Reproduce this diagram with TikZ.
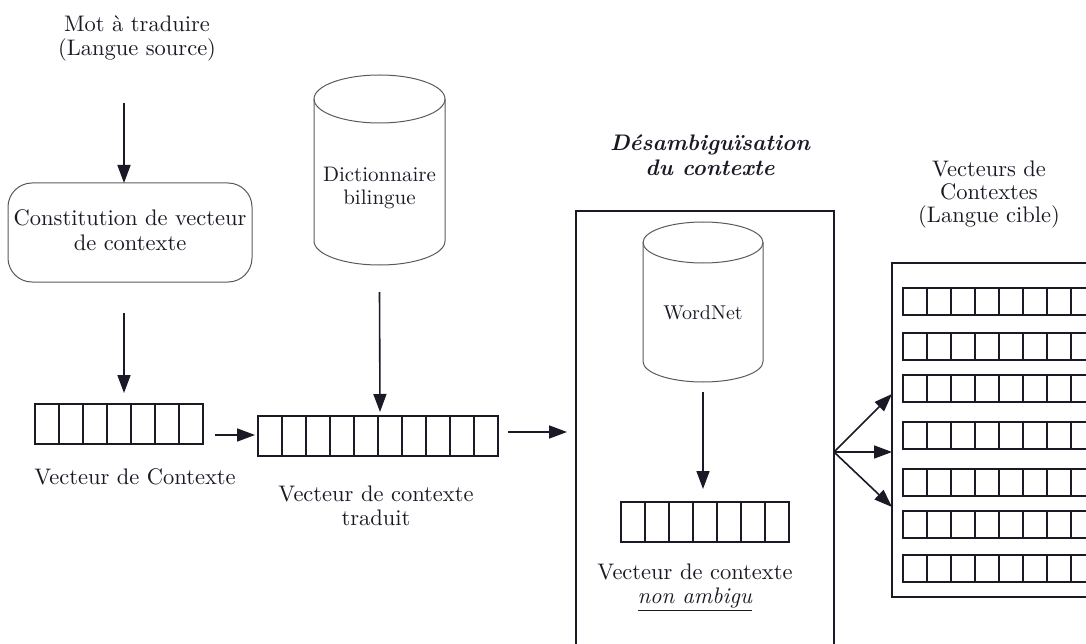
\documentclass[tikz,border=0pt]{standalone}
\usepackage{fontspec}
\setmainfont{lmroman10-regular.otf}[
  BoldFont=lmroman10-bold.otf,
  ItalicFont=lmroman10-italic.otf,
  BoldItalicFont=lmroman10-bolditalic.otf]
\usetikzlibrary{arrows.meta,calc}
\definecolor{ink}{HTML}{1A1A26}
\definecolor{rim}{HTML}{5A5A5A}
\begin{document}
\begin{tikzpicture}[x=1pt,y=-1pt,
  every node/.style={font=\fontsize{22.5}{24.5}\selectfont, text=ink},
  arr/.style={draw=ink, line width=1.6pt, -{Triangle[length=18pt,width=13pt]}},
  vecbox/.style={draw=ink, line width=1.7pt, inner sep=0pt, outer sep=0pt},
  cell/.style={draw=ink, line width=1.5pt},
  txt/.style={align=center, inner sep=0pt},
  frame/.style={draw=ink, line width=1.6pt, inner sep=0pt, outer sep=0pt},
  cyl/.style={draw=rim, line width=1pt},
  hold/.style={inner sep=0pt, outer sep=0pt},
]
\useasboundingbox (0,0) rectangle (1086,644);
\clip (0,0) rectangle (1086,644);

% source word and context-vector construction
\node[txt] (src) at (137,38.5) {Mot à traduire\\(Langue source)};
\node[draw=rim, line width=1pt, rounded corners=24pt, minimum width=244pt,
      minimum height=99pt, inner sep=0pt, outer sep=0pt] (cvc) at (130,232.5) {};
\node[txt] (cvclab) at (130,230) {Constitution de vecteur\\de contexte};

% vectors (cells 24 units wide)
\node[vecbox, minimum width=168pt, minimum height=40pt, anchor=north west] (vec1) at (35,404) {};
\foreach \k in {1,...,6}
  \draw[cell] ($(vec1.north west)+(\k*24,0)$) -- ($(vec1.south west)+(\k*24,0)$);
\node[txt] (lab1) at (135,477) {Vecteur de Contexte};

\node[vecbox, minimum width=240pt, minimum height=40pt, anchor=north west] (vec2) at (258,416) {};
\foreach \k in {1,...,9}
  \draw[cell] ($(vec2.north west)+(\k*24,0)$) -- ($(vec2.south west)+(\k*24,0)$);
\node[txt] (lab2) at (376,506) {Vecteur de contexte\\traduit};

% bilingual dictionary
\node[hold, minimum width=131pt, minimum height=190pt] (dict) at (379.5,170) {};
\draw[cyl] (379.5,99) ellipse[x radius=65.5, y radius=24];
\draw[cyl] (314,99) -- (314,241) arc[start angle=180, end angle=0, x radius=65.5, y radius=24] -- (445,99);
\node[txt, font=\fontsize{21}{23}\selectfont] (dictlab) at (379.5,188) {Dictionnaire\\bilingue};

% disambiguation block
\node[txt, font=\fontsize{22.5}{24.5}\selectfont\bfseries\itshape] (dis) at (710,155)
      {Désambiguïsation\\du contexte};
\node[frame, minimum width=258pt, minimum height=489pt] (box) at (705,455.5) {};
\node[hold, minimum width=120pt, minimum height=160pt] (wn) at (703,302) {};
\draw[cyl] (703,242.5) ellipse[x radius=60, y radius=20.5];
\draw[cyl] (643,242.5) -- (643,361.5) arc[start angle=180, end angle=0, x radius=60, y radius=20.5] -- (763,242.5);
\node[txt, font=\fontsize{20}{22}\selectfont] (wnlab) at (703,313) {WordNet};

\node[vecbox, minimum width=168pt, minimum height=40pt, anchor=north west] (vec3) at (621,502) {};
\foreach \k in {1,...,6}
  \draw[cell] ($(vec3.north west)+(\k*24,0)$) -- ($(vec3.south west)+(\k*24,0)$);
\node[txt] (lab3) at (695,587) {Vecteur de contexte\\\underline{\textit{non ambigu}}};

% target-language context vectors
\node[txt, font=\fontsize{22.5}{23}\selectfont] (tgt) at (989,195) {Vecteurs de\\Contextes\\(Langue cible)};
\node[frame, minimum width=238pt, minimum height=334pt] (panel) at (1011,430) {};
\foreach \r/\y in {1/288,2/333,3/375,4/422,5/469,6/511,7/555} {
  \node[vecbox, anchor=north west, minimum width=240pt, minimum height=27pt] (row\r) at (903,\y) {};
  \foreach \k in {1,...,9}
    \draw[cell] ($(row\r.north west)+(\k*24,0)$) -- ($(row\r.south west)+(\k*24,0)$);
}

% connectors
\draw[arr] ($(cvc.north)+(-6,-80)$) -- ($(cvc.north)+(-6,0)$);
\draw[arr] ($(cvc.south)+(-6,31)$) -- ($(vec1.north)+(5,-11)$);
\draw[arr] ($(dict.south)+(0,27)$) -- ($(vec2.north)+(2,-4)$);
\draw[arr] ($(vec1.east)+(12,11)$) -- ($(vec2.west)+(-3,-1)$);
\draw[arr] ($(vec2.east)+(10,-4)$) -- ($(box.west)+(-9,-23.5)$);
\draw[arr] ($(wn.south)+(0,10)$) -- ($(vec3.north)+(-2,-13)$);

\coordinate (fan) at ($(box.east)+(0,-3.5)$);
\draw[arr] (fan) -- ($(panel.west)+(0,-36)$);
\draw[arr] (fan) -- ($(panel.west)+(0,22)$);
\draw[arr] (fan) -- ($(panel.west)+(0,77)$);
\end{tikzpicture}
\end{document}
